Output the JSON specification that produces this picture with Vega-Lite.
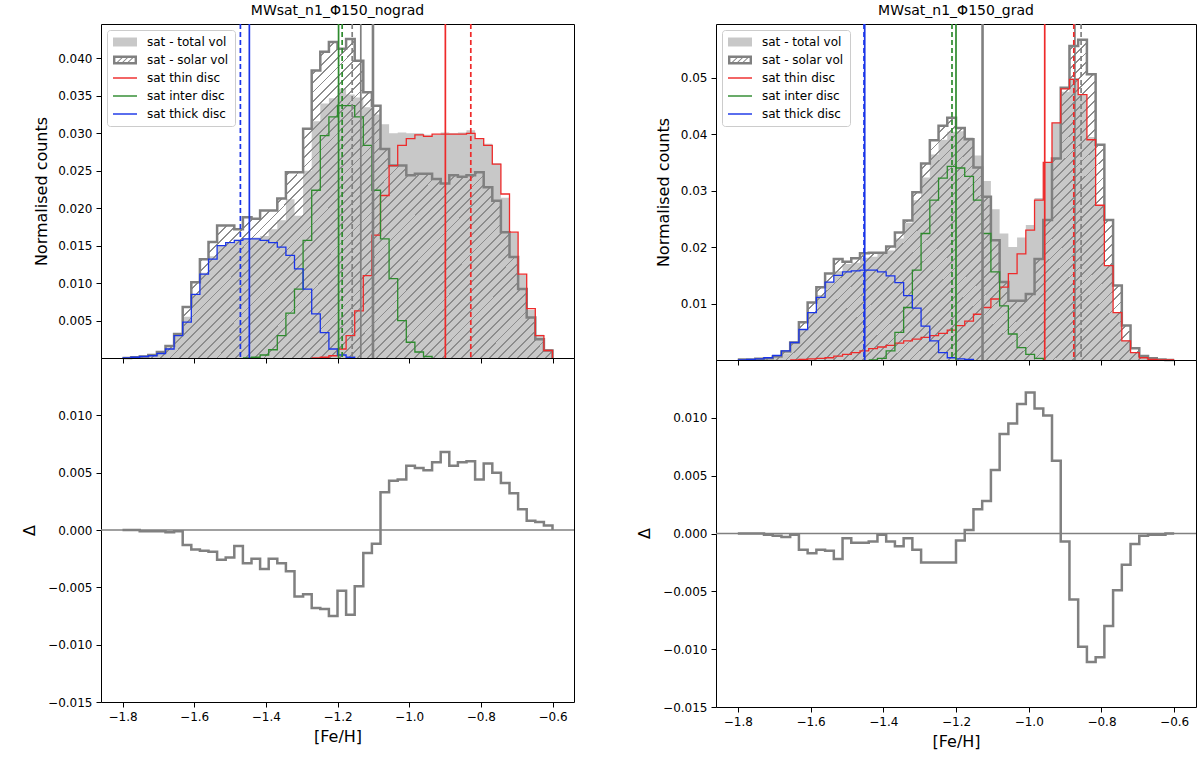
{
  "$schema": "https://vega.github.io/schema/vega-lite/v6.json",
  "background": "white",
  "padding": {"left": 20, "top": 3, "right": 0, "bottom": 0},
  "config": {
    "font": "DejaVu Sans",
    "view": {"stroke": "#000000", "strokeWidth": 1},
    "axis": {"grid": false, "domain": false, "ticks": true, "tickColor": "#000000", "tickSize": 5, "tickWidth": 1, "labelFont": "DejaVu Sans", "labelFontSize": 12, "labelColor": "#000000", "labelPadding": 4, "labelFlush": false, "labelOverlap": false, "titleFont": "DejaVu Sans", "titleFontSize": 16, "titleFontWeight": "normal", "titleColor": "#000000"},
    "title": {"font": "DejaVu Sans", "fontSize": 14, "fontWeight": "normal", "color": "#000000", "offset": 5, "anchor": "middle"},
    "legend": {"orient": "top-left", "offset": 6, "padding": 6, "fillColor": "#ffffff", "strokeColor": "#cccccc", "cornerRadius": 3, "labelFont": "DejaVu Sans", "labelFontSize": 12, "labelColor": "#000000", "labelOffset": 22, "rowPadding": 6, "symbolSize": 144, "symbolOpacity": 1, "symbolStrokeWidth": 0}
  },
  "datasets": {
    "bins": [
      {"panel":"nograd","feh":-1.8,"total":0,"solar":0,"thick":0,"delta":0},
      {"panel":"nograd","feh":-1.776,"total":0.0001,"solar":0.0001,"thick":0.0001,"delta":0},
      {"panel":"nograd","feh":-1.752,"total":0.0001,"solar":0.0002,"thick":0.0002,"delta":-0.0001},
      {"panel":"nograd","feh":-1.728,"total":0.0003,"solar":0.0004,"thick":0.0003,"delta":-0.0001},
      {"panel":"nograd","feh":-1.704,"total":0.0007,"solar":0.0008,"thick":0.0006,"delta":-0.0001},
      {"panel":"nograd","feh":-1.68,"total":0.0014,"solar":0.0016,"thick":0.0012,"delta":-0.0002},
      {"panel":"nograd","feh":-1.656,"total":0.0031,"solar":0.0032,"thick":0.003,"delta":-0.0001},
      {"panel":"nograd","feh":-1.632,"total":0.0055,"solar":0.0068,"thick":0.0048,"delta":-0.0013},
      {"panel":"nograd","feh":-1.608,"total":0.0084,"solar":0.0101,"thick":0.0085,"delta":-0.0017},
      {"panel":"nograd","feh":-1.584,"total":0.0114,"solar":0.0132,"thick":0.0112,"delta":-0.0018},
      {"panel":"nograd","feh":-1.56,"total":0.0136,"solar":0.0155,"thick":0.0132,"delta":-0.0019},
      {"panel":"nograd","feh":-1.536,"total":0.0151,"solar":0.0177,"thick":0.015,"delta":-0.0026},
      {"panel":"nograd","feh":-1.512,"total":0.0153,"solar":0.0177,"thick":0.0154,"delta":-0.0024},
      {"panel":"nograd","feh":-1.488,"total":0.0158,"solar":0.0172,"thick":0.0157,"delta":-0.0014},
      {"panel":"nograd","feh":-1.464,"total":0.0159,"solar":0.0188,"inter":0,"thick":0.0159,"delta":-0.0029},
      {"panel":"nograd","feh":-1.44,"total":0.0161,"solar":0.0186,"inter":0.0001,"thick":0.0159,"delta":-0.0025},
      {"panel":"nograd","feh":-1.416,"total":0.0163,"solar":0.0197,"inter":0.0004,"thick":0.0157,"delta":-0.0034},
      {"panel":"nograd","feh":-1.392,"total":0.0172,"solar":0.0197,"inter":0.0011,"thick":0.0154,"delta":-0.0025},
      {"panel":"nograd","feh":-1.368,"total":0.0184,"solar":0.0213,"inter":0.003,"thick":0.0148,"delta":-0.0029},
      {"panel":"nograd","feh":-1.344,"total":0.0212,"solar":0.0248,"inter":0.006,"thick":0.0137,"delta":-0.0036},
      {"panel":"nograd","feh":-1.32,"total":0.019,"solar":0.0248,"inter":0.0092,"thick":0.0119,"delta":-0.0058},
      {"panel":"nograd","feh":-1.296,"total":0.025,"solar":0.0306,"inter":0.0157,"thick":0.0092,"delta":-0.0056},
      {"panel":"nograd","feh":-1.272,"total":0.0316,"solar":0.0384,"thin":0,"inter":0.0224,"thick":0.0059,"delta":-0.0068},
      {"panel":"nograd","feh":-1.248,"total":0.034,"solar":0.0409,"thin":0.0001,"inter":0.0297,"thick":0.0034,"delta":-0.0069},
      {"panel":"nograd","feh":-1.224,"total":0.0347,"solar":0.0422,"thin":0.0003,"inter":0.0322,"thick":0.0012,"delta":-0.0075},
      {"panel":"nograd","feh":-1.2,"total":0.036,"solar":0.0413,"thin":0.0012,"inter":0.0337,"thick":0.0004,"delta":-0.0053},
      {"panel":"nograd","feh":-1.176,"total":0.0352,"solar":0.0426,"thin":0.003,"inter":0.0337,"thick":0.0001,"delta":-0.0074},
      {"panel":"nograd","feh":-1.152,"total":0.0348,"solar":0.0397,"thin":0.0063,"inter":0.0322,"thick":0,"delta":-0.0049},
      {"panel":"nograd","feh":-1.128,"total":0.0335,"solar":0.0355,"thin":0.011,"inter":0.0284,"delta":-0.002},
      {"panel":"nograd","feh":-1.104,"total":0.0325,"solar":0.0337,"thin":0.0164,"inter":0.0224,"delta":-0.0012},
      {"panel":"nograd","feh":-1.08,"total":0.0312,"solar":0.0279,"thin":0.0217,"inter":0.0159,"delta":0.0033},
      {"panel":"nograd","feh":-1.056,"total":0.03,"solar":0.0257,"thin":0.0257,"inter":0.0106,"delta":0.0043},
      {"panel":"nograd","feh":-1.032,"total":0.0301,"solar":0.0257,"thin":0.0284,"inter":0.005,"delta":0.0044},
      {"panel":"nograd","feh":-1.008,"total":0.03,"solar":0.0244,"thin":0.0293,"inter":0.0021,"delta":0.0056},
      {"panel":"nograd","feh":-0.984,"total":0.03,"solar":0.0246,"thin":0.0298,"inter":0.0008,"delta":0.0054},
      {"panel":"nograd","feh":-0.96,"total":0.0298,"solar":0.0246,"thin":0.0296,"inter":0.0002,"delta":0.0052},
      {"panel":"nograd","feh":-0.936,"total":0.0298,"solar":0.0239,"thin":0.0299,"inter":0,"delta":0.0059},
      {"panel":"nograd","feh":-0.912,"total":0.0301,"solar":0.0233,"thin":0.0299,"delta":0.0068},
      {"panel":"nograd","feh":-0.888,"total":0.03,"solar":0.0244,"thin":0.0299,"delta":0.0056},
      {"panel":"nograd","feh":-0.864,"total":0.0301,"solar":0.0242,"thin":0.0299,"delta":0.0059},
      {"panel":"nograd","feh":-0.84,"total":0.0304,"solar":0.0244,"thin":0.03,"delta":0.006},
      {"panel":"nograd","feh":-0.816,"total":0.0292,"solar":0.0248,"thin":0.0293,"delta":0.0044},
      {"panel":"nograd","feh":-0.792,"total":0.0286,"solar":0.0228,"thin":0.0284,"delta":0.0058},
      {"panel":"nograd","feh":-0.768,"total":0.026,"solar":0.021,"thin":0.0259,"delta":0.005},
      {"panel":"nograd","feh":-0.744,"total":0.0214,"solar":0.0168,"thin":0.0219,"delta":0.0041},
      {"panel":"nograd","feh":-0.72,"total":0.0167,"solar":0.0135,"thin":0.0168,"delta":0.0032},
      {"panel":"nograd","feh":-0.696,"total":0.0111,"solar":0.0092,"thin":0.0112,"delta":0.0018},
      {"panel":"nograd","feh":-0.672,"total":0.0064,"solar":0.0054,"thin":0.0066,"delta":0.0008},
      {"panel":"nograd","feh":-0.648,"total":0.0031,"solar":0.0025,"thin":0.003,"delta":0.0007},
      {"panel":"nograd","feh":-0.624,"total":0.0012,"solar":0.001,"thin":0.001,"delta":0.0004},
      {"panel":"nograd","feh":-0.6,"total":0,"solar":0,"thin":0,"delta":0},
      {"panel":"grad","feh":-1.8,"total":0.0001,"solar":0.0001,"thick":0,"delta":0},
      {"panel":"grad","feh":-1.776,"total":0.0001,"solar":0.0001,"thick":0.0001,"delta":0},
      {"panel":"grad","feh":-1.752,"total":0.0002,"solar":0.0002,"thick":0.0002,"delta":0},
      {"panel":"grad","feh":-1.728,"total":0.0002,"solar":0.0003,"thick":0.0004,"delta":-0.0001},
      {"panel":"grad","feh":-1.704,"total":0.0004,"solar":0.0006,"thick":0.0008,"delta":-0.0002},
      {"panel":"grad","feh":-1.68,"total":0.0012,"solar":0.0015,"thick":0.0016,"delta":-0.0003},
      {"panel":"grad","feh":-1.656,"total":0.003,"solar":0.0031,"thin":0,"thick":0.0031,"delta":-0.0001},
      {"panel":"grad","feh":-1.632,"total":0.0053,"solar":0.0067,"thin":0.0001,"thick":0.0054,"delta":-0.0014},
      {"panel":"grad","feh":-1.608,"total":0.0085,"solar":0.0102,"thin":0.0002,"thick":0.0084,"delta":-0.0017},
      {"panel":"grad","feh":-1.584,"total":0.0115,"solar":0.0129,"thin":0.0003,"thick":0.0111,"delta":-0.0014},
      {"panel":"grad","feh":-1.56,"total":0.0138,"solar":0.0153,"thin":0.0004,"thick":0.0138,"delta":-0.0015},
      {"panel":"grad","feh":-1.536,"total":0.0157,"solar":0.0179,"thin":0.0007,"thick":0.015,"delta":-0.0022},
      {"panel":"grad","feh":-1.512,"total":0.017,"solar":0.0174,"thin":0.001,"thick":0.0156,"delta":-0.0004},
      {"panel":"grad","feh":-1.488,"total":0.0172,"solar":0.018,"thin":0.0013,"thick":0.0158,"delta":-0.0008},
      {"panel":"grad","feh":-1.464,"total":0.0181,"solar":0.0189,"thin":0.0016,"thick":0.0159,"delta":-0.0008},
      {"panel":"grad","feh":-1.44,"total":0.0183,"solar":0.019,"thin":0.002,"inter":0,"thick":0.0159,"delta":-0.0007},
      {"panel":"grad","feh":-1.416,"total":0.0189,"solar":0.019,"thin":0.0023,"inter":0.0003,"thick":0.0156,"delta":-0.0001},
      {"panel":"grad","feh":-1.392,"total":0.0194,"solar":0.0201,"thin":0.0026,"inter":0.0016,"thick":0.0149,"delta":-0.0007},
      {"panel":"grad","feh":-1.368,"total":0.0215,"solar":0.0226,"thin":0.003,"inter":0.0049,"thick":0.0137,"delta":-0.0011},
      {"panel":"grad","feh":-1.344,"total":0.0243,"solar":0.0247,"thin":0.0034,"inter":0.0093,"thick":0.0114,"delta":-0.0004},
      {"panel":"grad","feh":-1.32,"total":0.0283,"solar":0.0297,"thin":0.0037,"inter":0.0159,"thick":0.0092,"delta":-0.0014},
      {"panel":"grad","feh":-1.296,"total":0.0323,"solar":0.0348,"thin":0.004,"inter":0.0224,"thick":0.006,"delta":-0.0025},
      {"panel":"grad","feh":-1.272,"total":0.0364,"solar":0.0389,"thin":0.0043,"inter":0.0283,"thick":0.0034,"delta":-0.0025},
      {"panel":"grad","feh":-1.248,"total":0.039,"solar":0.0415,"thin":0.0047,"inter":0.0322,"thick":0.0013,"delta":-0.0025},
      {"panel":"grad","feh":-1.224,"total":0.0404,"solar":0.0429,"thin":0.0053,"inter":0.0343,"thick":0.0004,"delta":-0.0025},
      {"panel":"grad","feh":-1.2,"total":0.0405,"solar":0.0411,"thin":0.0061,"inter":0.034,"thick":0.0002,"delta":-0.0006},
      {"panel":"grad","feh":-1.176,"total":0.0394,"solar":0.0391,"thin":0.0069,"inter":0.0325,"thick":0.0001,"delta":0.0003},
      {"panel":"grad","feh":-1.152,"total":0.0362,"solar":0.0341,"thin":0.0081,"inter":0.0283,"thick":0,"delta":0.0021},
      {"panel":"grad","feh":-1.128,"total":0.0317,"solar":0.0289,"thin":0.0093,"inter":0.0224,"delta":0.0028},
      {"panel":"grad","feh":-1.104,"total":0.0267,"solar":0.0212,"thin":0.0108,"inter":0.0156,"delta":0.0055},
      {"panel":"grad","feh":-1.08,"total":0.0224,"solar":0.0138,"thin":0.0129,"inter":0.0096,"delta":0.0086},
      {"panel":"grad","feh":-1.056,"total":0.02,"solar":0.0105,"thin":0.0153,"inter":0.0046,"delta":0.0095},
      {"panel":"grad","feh":-1.032,"total":0.0217,"solar":0.0105,"thin":0.0188,"inter":0.0022,"delta":0.0112},
      {"panel":"grad","feh":-1.008,"total":0.0239,"solar":0.0117,"thin":0.023,"inter":0.001,"delta":0.0122},
      {"panel":"grad","feh":-0.984,"total":0.0287,"solar":0.0179,"thin":0.0283,"inter":0.0003,"delta":0.0108},
      {"panel":"grad","feh":-0.96,"total":0.035,"solar":0.0248,"thin":0.035,"inter":0,"delta":0.0102},
      {"panel":"grad","feh":-0.936,"total":0.042,"solar":0.0357,"thin":0.042,"delta":0.0063},
      {"panel":"grad","feh":-0.912,"total":0.0475,"solar":0.0482,"thin":0.048,"delta":-0.0007},
      {"panel":"grad","feh":-0.888,"total":0.0499,"solar":0.0556,"thin":0.0497,"delta":-0.0057},
      {"panel":"grad","feh":-0.864,"total":0.0469,"solar":0.0567,"thin":0.047,"delta":-0.0098},
      {"panel":"grad","feh":-0.84,"total":0.0395,"solar":0.0506,"thin":0.039,"delta":-0.0111},
      {"panel":"grad","feh":-0.816,"total":0.0274,"solar":0.0381,"thin":0.0274,"delta":-0.0107},
      {"panel":"grad","feh":-0.792,"total":0.0168,"solar":0.0248,"thin":0.0167,"delta":-0.008},
      {"panel":"grad","feh":-0.768,"total":0.0084,"solar":0.0132,"thin":0.0084,"delta":-0.0049},
      {"panel":"grad","feh":-0.744,"total":0.0035,"solar":0.0061,"thin":0.0034,"delta":-0.0027},
      {"panel":"grad","feh":-0.72,"total":0.0013,"solar":0.0021,"thin":0.0013,"delta":-0.0009},
      {"panel":"grad","feh":-0.696,"total":0.0005,"solar":0.0007,"thin":0.0004,"delta":-0.0002},
      {"panel":"grad","feh":-0.672,"total":0.0002,"solar":0.0003,"thin":0.0001,"delta":-0.0001},
      {"panel":"grad","feh":-0.648,"total":0.0001,"solar":0.0001,"thin":0,"delta":-0.0001},
      {"panel":"grad","feh":-0.624,"total":0.0001,"solar":0,"thin":0,"delta":0},
      {"panel":"grad","feh":-0.6,"total":0,"solar":0,"thin":0,"delta":0}
    ],
    "vlines": [
      {"panel":"nograd","series":"thick","stat":"mean","feh":-1.446},
      {"panel":"nograd","series":"thick","stat":"median","feh":-1.471},
      {"panel":"nograd","series":"inter","stat":"mean","feh":-1.197},
      {"panel":"nograd","series":"inter","stat":"median","feh":-1.187},
      {"panel":"nograd","series":"solar","stat":"median","feh":-1.159},
      {"panel":"nograd","series":"solar","stat":"mean","feh":-1.135},
      {"panel":"nograd","series":"thin","stat":"mean","feh":-0.899},
      {"panel":"nograd","series":"thin","stat":"median","feh":-0.828},
      {"panel":"nograd","series":"total","stat":"mean","feh":-1.101},
      {"panel":"grad","series":"thick","stat":"mean","feh":-1.451},
      {"panel":"grad","series":"thick","stat":"median","feh":-1.453},
      {"panel":"grad","series":"inter","stat":"mean","feh":-1.2},
      {"panel":"grad","series":"inter","stat":"median","feh":-1.211},
      {"panel":"grad","series":"solar","stat":"mean","feh":-0.873},
      {"panel":"grad","series":"solar","stat":"median","feh":-0.856},
      {"panel":"grad","series":"thin","stat":"mean","feh":-0.956},
      {"panel":"grad","series":"thin","stat":"median","feh":-0.876},
      {"panel":"grad","series":"total","stat":"mean","feh":-1.127}
    ]
  },
  "resolve": {"scale": {"color": "independent", "shape": "independent", "stroke": "independent", "strokeDash": "independent"}, "legend": {"color": "independent", "shape": "independent"}},
  "spacing": 59,
  "hconcat": [
    {
      "vconcat": [
        {
          "width": 473, "height": 334,
          "title": {"text": "MWsat_n1_Φ150_nograd"},
          "encoding": {"x": {"field": "feh", "type": "quantitative", "scale": {"domain": [-1.86, -0.54], "nice": false, "zero": false}, "axis": {"values": [-1.8, -1.6, -1.4, -1.2, -1.0, -0.8, -0.6], "labels": false, "title": null}}},
          "layer": [
            {"data": {"name": "bins"}, "transform": [{"filter": "datum.panel === 'nograd'"}],
             "mark": {"type": "area", "interpolate": "step-after", "fill": "#c8c8c8"},
             "encoding": {"y": {"field": "total", "type": "quantitative", "title": "Normalised counts", "scale": {"domain": [0, 0.0446], "nice": false, "zero": true}, "axis": {"values": [0.005, 0.01, 0.015, 0.02, 0.025, 0.03, 0.035, 0.04], "format": ".3f", "titleX": -60, "titleY": 167, "titleAngle": 270, "titleAlign": "center", "titleBaseline": "middle"}}}},
            {"data": {"name": "bins"}, "transform": [{"filter": "datum.panel === 'nograd'"}],
             "mark": {"type": "area", "interpolate": "step-after", "fill": {"gradient": "linear", "x1": 0, "y1": 0, "x2": 1.13, "y2": 0.836, "stops": [
      {"offset":0,"color":"transparent"},{"offset":0.01,"color":"transparent"},{"offset":0.01,"color":"#8c8c8c"},{"offset":0.0125,"color":"#8c8c8c"},
      {"offset":0.0125,"color":"transparent"},{"offset":0.0225,"color":"transparent"},{"offset":0.0225,"color":"#8c8c8c"},{"offset":0.025,"color":"#8c8c8c"},
      {"offset":0.025,"color":"transparent"},{"offset":0.035,"color":"transparent"},{"offset":0.035,"color":"#8c8c8c"},{"offset":0.0375,"color":"#8c8c8c"},
      {"offset":0.0375,"color":"transparent"},{"offset":0.0475,"color":"transparent"},{"offset":0.0475,"color":"#8c8c8c"},{"offset":0.05,"color":"#8c8c8c"},
      {"offset":0.05,"color":"transparent"},{"offset":0.06,"color":"transparent"},{"offset":0.06,"color":"#8c8c8c"},{"offset":0.0625,"color":"#8c8c8c"},
      {"offset":0.0625,"color":"transparent"},{"offset":0.0725,"color":"transparent"},{"offset":0.0725,"color":"#8c8c8c"},{"offset":0.075,"color":"#8c8c8c"},
      {"offset":0.075,"color":"transparent"},{"offset":0.085,"color":"transparent"},{"offset":0.085,"color":"#8c8c8c"},{"offset":0.0875,"color":"#8c8c8c"},
      {"offset":0.0875,"color":"transparent"},{"offset":0.0975,"color":"transparent"},{"offset":0.0975,"color":"#8c8c8c"},{"offset":0.1,"color":"#8c8c8c"},
      {"offset":0.1,"color":"transparent"},{"offset":0.11,"color":"transparent"},{"offset":0.11,"color":"#8c8c8c"},{"offset":0.1125,"color":"#8c8c8c"},
      {"offset":0.1125,"color":"transparent"},{"offset":0.1225,"color":"transparent"},{"offset":0.1225,"color":"#8c8c8c"},{"offset":0.125,"color":"#8c8c8c"},
      {"offset":0.125,"color":"transparent"},{"offset":0.135,"color":"transparent"},{"offset":0.135,"color":"#8c8c8c"},{"offset":0.1375,"color":"#8c8c8c"},
      {"offset":0.1375,"color":"transparent"},{"offset":0.1475,"color":"transparent"},{"offset":0.1475,"color":"#8c8c8c"},{"offset":0.15,"color":"#8c8c8c"},
      {"offset":0.15,"color":"transparent"},{"offset":0.16,"color":"transparent"},{"offset":0.16,"color":"#8c8c8c"},{"offset":0.1625,"color":"#8c8c8c"},
      {"offset":0.1625,"color":"transparent"},{"offset":0.1725,"color":"transparent"},{"offset":0.1725,"color":"#8c8c8c"},{"offset":0.175,"color":"#8c8c8c"},
      {"offset":0.175,"color":"transparent"},{"offset":0.185,"color":"transparent"},{"offset":0.185,"color":"#8c8c8c"},{"offset":0.1875,"color":"#8c8c8c"},
      {"offset":0.1875,"color":"transparent"},{"offset":0.1975,"color":"transparent"},{"offset":0.1975,"color":"#8c8c8c"},{"offset":0.2,"color":"#8c8c8c"},
      {"offset":0.2,"color":"transparent"},{"offset":0.21,"color":"transparent"},{"offset":0.21,"color":"#8c8c8c"},{"offset":0.2125,"color":"#8c8c8c"},
      {"offset":0.2125,"color":"transparent"},{"offset":0.2225,"color":"transparent"},{"offset":0.2225,"color":"#8c8c8c"},{"offset":0.225,"color":"#8c8c8c"},
      {"offset":0.225,"color":"transparent"},{"offset":0.235,"color":"transparent"},{"offset":0.235,"color":"#8c8c8c"},{"offset":0.2375,"color":"#8c8c8c"},
      {"offset":0.2375,"color":"transparent"},{"offset":0.2475,"color":"transparent"},{"offset":0.2475,"color":"#8c8c8c"},{"offset":0.25,"color":"#8c8c8c"},
      {"offset":0.25,"color":"transparent"},{"offset":0.26,"color":"transparent"},{"offset":0.26,"color":"#8c8c8c"},{"offset":0.2625,"color":"#8c8c8c"},
      {"offset":0.2625,"color":"transparent"},{"offset":0.2725,"color":"transparent"},{"offset":0.2725,"color":"#8c8c8c"},{"offset":0.275,"color":"#8c8c8c"},
      {"offset":0.275,"color":"transparent"},{"offset":0.285,"color":"transparent"},{"offset":0.285,"color":"#8c8c8c"},{"offset":0.2875,"color":"#8c8c8c"},
      {"offset":0.2875,"color":"transparent"},{"offset":0.2975,"color":"transparent"},{"offset":0.2975,"color":"#8c8c8c"},{"offset":0.3,"color":"#8c8c8c"},
      {"offset":0.3,"color":"transparent"},{"offset":0.31,"color":"transparent"},{"offset":0.31,"color":"#8c8c8c"},{"offset":0.3125,"color":"#8c8c8c"},
      {"offset":0.3125,"color":"transparent"},{"offset":0.3225,"color":"transparent"},{"offset":0.3225,"color":"#8c8c8c"},{"offset":0.325,"color":"#8c8c8c"},
      {"offset":0.325,"color":"transparent"},{"offset":0.335,"color":"transparent"},{"offset":0.335,"color":"#8c8c8c"},{"offset":0.3375,"color":"#8c8c8c"},
      {"offset":0.3375,"color":"transparent"},{"offset":0.3475,"color":"transparent"},{"offset":0.3475,"color":"#8c8c8c"},{"offset":0.35,"color":"#8c8c8c"},
      {"offset":0.35,"color":"transparent"},{"offset":0.36,"color":"transparent"},{"offset":0.36,"color":"#8c8c8c"},{"offset":0.3625,"color":"#8c8c8c"},
      {"offset":0.3625,"color":"transparent"},{"offset":0.3725,"color":"transparent"},{"offset":0.3725,"color":"#8c8c8c"},{"offset":0.375,"color":"#8c8c8c"},
      {"offset":0.375,"color":"transparent"},{"offset":0.385,"color":"transparent"},{"offset":0.385,"color":"#8c8c8c"},{"offset":0.3875,"color":"#8c8c8c"},
      {"offset":0.3875,"color":"transparent"},{"offset":0.3975,"color":"transparent"},{"offset":0.3975,"color":"#8c8c8c"},{"offset":0.4,"color":"#8c8c8c"},
      {"offset":0.4,"color":"transparent"},{"offset":0.41,"color":"transparent"},{"offset":0.41,"color":"#8c8c8c"},{"offset":0.4125,"color":"#8c8c8c"},
      {"offset":0.4125,"color":"transparent"},{"offset":0.4225,"color":"transparent"},{"offset":0.4225,"color":"#8c8c8c"},{"offset":0.425,"color":"#8c8c8c"},
      {"offset":0.425,"color":"transparent"},{"offset":0.435,"color":"transparent"},{"offset":0.435,"color":"#8c8c8c"},{"offset":0.4375,"color":"#8c8c8c"},
      {"offset":0.4375,"color":"transparent"},{"offset":0.4475,"color":"transparent"},{"offset":0.4475,"color":"#8c8c8c"},{"offset":0.45,"color":"#8c8c8c"},
      {"offset":0.45,"color":"transparent"},{"offset":0.46,"color":"transparent"},{"offset":0.46,"color":"#8c8c8c"},{"offset":0.4625,"color":"#8c8c8c"},
      {"offset":0.4625,"color":"transparent"},{"offset":0.4725,"color":"transparent"},{"offset":0.4725,"color":"#8c8c8c"},{"offset":0.475,"color":"#8c8c8c"},
      {"offset":0.475,"color":"transparent"},{"offset":0.485,"color":"transparent"},{"offset":0.485,"color":"#8c8c8c"},{"offset":0.4875,"color":"#8c8c8c"},
      {"offset":0.4875,"color":"transparent"},{"offset":0.4975,"color":"transparent"},{"offset":0.4975,"color":"#8c8c8c"},{"offset":0.5,"color":"#8c8c8c"},
      {"offset":0.5,"color":"transparent"},{"offset":0.51,"color":"transparent"},{"offset":0.51,"color":"#8c8c8c"},{"offset":0.5125,"color":"#8c8c8c"},
      {"offset":0.5125,"color":"transparent"},{"offset":0.5225,"color":"transparent"},{"offset":0.5225,"color":"#8c8c8c"},{"offset":0.525,"color":"#8c8c8c"},
      {"offset":0.525,"color":"transparent"},{"offset":0.535,"color":"transparent"},{"offset":0.535,"color":"#8c8c8c"},{"offset":0.5375,"color":"#8c8c8c"},
      {"offset":0.5375,"color":"transparent"},{"offset":0.5475,"color":"transparent"},{"offset":0.5475,"color":"#8c8c8c"},{"offset":0.55,"color":"#8c8c8c"},
      {"offset":0.55,"color":"transparent"},{"offset":0.56,"color":"transparent"},{"offset":0.56,"color":"#8c8c8c"},{"offset":0.5625,"color":"#8c8c8c"},
      {"offset":0.5625,"color":"transparent"},{"offset":0.5725,"color":"transparent"},{"offset":0.5725,"color":"#8c8c8c"},{"offset":0.575,"color":"#8c8c8c"},
      {"offset":0.575,"color":"transparent"},{"offset":0.585,"color":"transparent"},{"offset":0.585,"color":"#8c8c8c"},{"offset":0.5875,"color":"#8c8c8c"},
      {"offset":0.5875,"color":"transparent"},{"offset":0.5975,"color":"transparent"},{"offset":0.5975,"color":"#8c8c8c"},{"offset":0.6,"color":"#8c8c8c"},
      {"offset":0.6,"color":"transparent"},{"offset":0.61,"color":"transparent"},{"offset":0.61,"color":"#8c8c8c"},{"offset":0.6125,"color":"#8c8c8c"},
      {"offset":0.6125,"color":"transparent"},{"offset":0.6225,"color":"transparent"},{"offset":0.6225,"color":"#8c8c8c"},{"offset":0.625,"color":"#8c8c8c"},
      {"offset":0.625,"color":"transparent"},{"offset":0.635,"color":"transparent"},{"offset":0.635,"color":"#8c8c8c"},{"offset":0.6375,"color":"#8c8c8c"},
      {"offset":0.6375,"color":"transparent"},{"offset":0.6475,"color":"transparent"},{"offset":0.6475,"color":"#8c8c8c"},{"offset":0.65,"color":"#8c8c8c"},
      {"offset":0.65,"color":"transparent"},{"offset":0.66,"color":"transparent"},{"offset":0.66,"color":"#8c8c8c"},{"offset":0.6625,"color":"#8c8c8c"},
      {"offset":0.6625,"color":"transparent"},{"offset":0.6725,"color":"transparent"},{"offset":0.6725,"color":"#8c8c8c"},{"offset":0.675,"color":"#8c8c8c"},
      {"offset":0.675,"color":"transparent"},{"offset":0.685,"color":"transparent"},{"offset":0.685,"color":"#8c8c8c"},{"offset":0.6875,"color":"#8c8c8c"},
      {"offset":0.6875,"color":"transparent"},{"offset":0.6975,"color":"transparent"},{"offset":0.6975,"color":"#8c8c8c"},{"offset":0.7,"color":"#8c8c8c"},
      {"offset":0.7,"color":"transparent"},{"offset":0.71,"color":"transparent"},{"offset":0.71,"color":"#8c8c8c"},{"offset":0.7125,"color":"#8c8c8c"},
      {"offset":0.7125,"color":"transparent"},{"offset":0.7225,"color":"transparent"},{"offset":0.7225,"color":"#8c8c8c"},{"offset":0.725,"color":"#8c8c8c"},
      {"offset":0.725,"color":"transparent"},{"offset":0.735,"color":"transparent"},{"offset":0.735,"color":"#8c8c8c"},{"offset":0.7375,"color":"#8c8c8c"},
      {"offset":0.7375,"color":"transparent"},{"offset":0.7475,"color":"transparent"},{"offset":0.7475,"color":"#8c8c8c"},{"offset":0.75,"color":"#8c8c8c"},
      {"offset":0.75,"color":"transparent"},{"offset":0.76,"color":"transparent"},{"offset":0.76,"color":"#8c8c8c"},{"offset":0.7625,"color":"#8c8c8c"},
      {"offset":0.7625,"color":"transparent"},{"offset":0.7725,"color":"transparent"},{"offset":0.7725,"color":"#8c8c8c"},{"offset":0.775,"color":"#8c8c8c"},
      {"offset":0.775,"color":"transparent"},{"offset":0.785,"color":"transparent"},{"offset":0.785,"color":"#8c8c8c"},{"offset":0.7875,"color":"#8c8c8c"},
      {"offset":0.7875,"color":"transparent"},{"offset":0.7975,"color":"transparent"},{"offset":0.7975,"color":"#8c8c8c"},{"offset":0.8,"color":"#8c8c8c"},
      {"offset":0.8,"color":"transparent"},{"offset":0.81,"color":"transparent"},{"offset":0.81,"color":"#8c8c8c"},{"offset":0.8125,"color":"#8c8c8c"},
      {"offset":0.8125,"color":"transparent"},{"offset":0.8225,"color":"transparent"},{"offset":0.8225,"color":"#8c8c8c"},{"offset":0.825,"color":"#8c8c8c"},
      {"offset":0.825,"color":"transparent"},{"offset":0.835,"color":"transparent"},{"offset":0.835,"color":"#8c8c8c"},{"offset":0.8375,"color":"#8c8c8c"},
      {"offset":0.8375,"color":"transparent"},{"offset":0.8475,"color":"transparent"},{"offset":0.8475,"color":"#8c8c8c"},{"offset":0.85,"color":"#8c8c8c"},
      {"offset":0.85,"color":"transparent"},{"offset":0.86,"color":"transparent"},{"offset":0.86,"color":"#8c8c8c"},{"offset":0.8625,"color":"#8c8c8c"},
      {"offset":0.8625,"color":"transparent"},{"offset":0.8725,"color":"transparent"},{"offset":0.8725,"color":"#8c8c8c"},{"offset":0.875,"color":"#8c8c8c"},
      {"offset":0.875,"color":"transparent"},{"offset":0.885,"color":"transparent"},{"offset":0.885,"color":"#8c8c8c"},{"offset":0.8875,"color":"#8c8c8c"},
      {"offset":0.8875,"color":"transparent"},{"offset":0.8975,"color":"transparent"},{"offset":0.8975,"color":"#8c8c8c"},{"offset":0.9,"color":"#8c8c8c"},
      {"offset":0.9,"color":"transparent"},{"offset":0.91,"color":"transparent"},{"offset":0.91,"color":"#8c8c8c"},{"offset":0.9125,"color":"#8c8c8c"},
      {"offset":0.9125,"color":"transparent"},{"offset":0.9225,"color":"transparent"},{"offset":0.9225,"color":"#8c8c8c"},{"offset":0.925,"color":"#8c8c8c"},
      {"offset":0.925,"color":"transparent"},{"offset":0.935,"color":"transparent"},{"offset":0.935,"color":"#8c8c8c"},{"offset":0.9375,"color":"#8c8c8c"},
      {"offset":0.9375,"color":"transparent"},{"offset":0.9475,"color":"transparent"},{"offset":0.9475,"color":"#8c8c8c"},{"offset":0.95,"color":"#8c8c8c"},
      {"offset":0.95,"color":"transparent"},{"offset":0.96,"color":"transparent"},{"offset":0.96,"color":"#8c8c8c"},{"offset":0.9625,"color":"#8c8c8c"},
      {"offset":0.9625,"color":"transparent"},{"offset":0.9725,"color":"transparent"},{"offset":0.9725,"color":"#8c8c8c"},{"offset":0.975,"color":"#8c8c8c"},
      {"offset":0.975,"color":"transparent"},{"offset":0.985,"color":"transparent"},{"offset":0.985,"color":"#8c8c8c"},{"offset":0.9875,"color":"#8c8c8c"},
      {"offset":0.9875,"color":"transparent"},{"offset":0.9975,"color":"transparent"},{"offset":0.9975,"color":"#8c8c8c"},{"offset":1,"color":"#8c8c8c"}
    ]}},
             "encoding": {"y": {"field": "solar", "type": "quantitative", "title": "Normalised counts"}}},
            {"data": {"name": "bins"}, "transform": [{"filter": "datum.panel === 'nograd'"}],
             "mark": {"type": "line", "interpolate": "step-after", "stroke": "#808080", "strokeWidth": 2.5},
             "encoding": {"y": {"field": "solar", "type": "quantitative", "title": "Normalised counts"}}},
            {"data": {"name": "bins"}, "transform": [{"filter": "datum.panel === 'nograd'"}, {"fold": ["thin", "inter", "thick"], "as": ["key", "count"]}],
             "mark": {"type": "line", "interpolate": "step-after", "strokeWidth": 1.3},
             "encoding": {
               "y": {"field": "count", "type": "quantitative", "title": "Normalised counts"},
               "stroke": {"field": "key", "type": "nominal", "scale": {"domain": ["solar", "thin", "inter", "thick"], "range": ["#808080", "#ee2a2a", "#2e8b2e", "#1a35e8"]}, "legend": null}
             }},
            {"data": {"name": "vlines"}, "transform": [{"filter": "datum.panel === 'nograd' && datum.series !== 'total'"}],
             "mark": {"type": "rule", "strokeWidth": 1.7},
             "encoding": {
               "stroke": {"field": "series", "type": "nominal", "scale": {"domain": ["solar", "thin", "inter", "thick"], "range": ["#808080", "#ee2a2a", "#2e8b2e", "#1a35e8"]}, "legend": null},
               "strokeDash": {"field": "stat", "type": "nominal", "scale": {"domain": ["mean", "median"], "range": [[1, 0], [5, 3]]}, "legend": null}
             }},
            {"data": {"name": "vlines"}, "transform": [{"filter": "datum.panel === 'nograd' && datum.series === 'total'"}],
             "mark": {"type": "rule", "strokeWidth": 2.6, "stroke": "#808080"},
             "encoding": {}},
            {"data": {"name": "bins"}, "transform": [{"filter": "datum.panel === 'nograd'"}, {"fold": ["total", "solar", "thin", "inter", "thick"], "as": ["key", "count"]}],
             "mark": {"type": "point", "filled": true, "opacity": 0},
             "encoding": {
               "y": {"field": "count", "type": "quantitative", "title": "Normalised counts"},
               "color": {"field": "key", "type": "nominal", "scale": {"domain": ["total", "solar", "thin", "inter", "thick"], "range": ["#c8c8c8", "#808080", "#ee2a2a", "#2e8b2e", "#1a35e8"]},
                 "legend": {"title": null, "labelExpr": "datum.label == 'total' ? 'sat - total vol' : datum.label == 'solar' ? 'sat - solar vol' : datum.label == 'thin' ? 'sat thin disc' : datum.label == 'inter' ? 'sat inter disc' : 'sat thick disc'"}},
               "shape": {"field": "key", "type": "nominal", "scale": {"domain": ["total", "solar", "thin", "inter", "thick"], "range": ["M-1,-0.75H3V0.75H-1Z", "M-1,-0.75H3V0.75H-1Z M-0.6,-0.35V0.35H2.6V-0.35Z M-0.35,0.35L0.35,-0.35H0.57L-0.13,0.35Z M0.55,0.35L1.25,-0.35H1.47L0.77,0.35Z M1.45,0.35L2.15,-0.35H2.37L1.67,0.35Z", "M-1,-0.12H3V0.12H-1Z", "M-1,-0.12H3V0.12H-1Z", "M-1,-0.12H3V0.12H-1Z"]},
                 "legend": {"title": null, "labelExpr": "datum.label == 'total' ? 'sat - total vol' : datum.label == 'solar' ? 'sat - solar vol' : datum.label == 'thin' ? 'sat thin disc' : datum.label == 'inter' ? 'sat inter disc' : 'sat thick disc'"}}
             }}
          ]
        },
        {
          "width": 473, "height": 344,
          "layer": [
            {"data": {"name": "bins"}, "transform": [{"filter": "datum.panel === 'nograd'"}],
             "mark": {"type": "line", "interpolate": "step-after", "stroke": "#808080", "strokeWidth": 2.5},
             "encoding": {
               "x": {"field": "feh", "type": "quantitative", "title": "[Fe/H]", "scale": {"domain": [-1.86, -0.54], "nice": false, "zero": false}, "axis": {"values": [-1.8, -1.6, -1.4, -1.2, -1.0, -0.8, -0.6], "format": ".1f", "titlePadding": 6}},
               "y": {"field": "delta", "type": "quantitative", "title": "Δ", "scale": {"domain": [-0.015, 0.015], "nice": false, "zero": false}, "axis": {"values": [-0.015, -0.01, -0.005, 0, 0.005, 0.01], "format": ".3f", "titleX": -72, "titleY": 172, "titleAngle": 270, "titleAlign": "center", "titleBaseline": "middle"}}
             }},
            {"data": {"values": [{"level": 0}]},
             "mark": {"type": "rule", "stroke": "#808080", "strokeWidth": 1.5},
             "encoding": {"y": {"field": "level", "type": "quantitative"}}}
          ]
        }
      ],
      "spacing": 0,
      "bounds": "flush",
      "resolve": {"scale": {"color": "independent", "shape": "independent", "stroke": "independent", "strokeDash": "independent"}, "legend": {"color": "independent", "shape": "independent"}}
    },
    {
      "vconcat": [
        {
          "width": 480, "height": 336,
          "title": {"text": "MWsat_n1_Φ150_grad"},
          "encoding": {"x": {"field": "feh", "type": "quantitative", "scale": {"domain": [-1.86, -0.54], "nice": false, "zero": false}, "axis": {"values": [-1.8, -1.6, -1.4, -1.2, -1.0, -0.8, -0.6], "labels": false, "title": null}}},
          "layer": [
            {"data": {"name": "bins"}, "transform": [{"filter": "datum.panel === 'grad'"}],
             "mark": {"type": "area", "interpolate": "step-after", "fill": "#c8c8c8"},
             "encoding": {"y": {"field": "total", "type": "quantitative", "title": "Normalised counts", "scale": {"domain": [0, 0.0595], "nice": false, "zero": true}, "axis": {"values": [0.01, 0.02, 0.03, 0.04, 0.05], "format": ".2f", "titleX": -53, "titleY": 168, "titleAngle": 270, "titleAlign": "center", "titleBaseline": "middle"}}}},
            {"data": {"name": "bins"}, "transform": [{"filter": "datum.panel === 'grad'"}],
             "mark": {"type": "area", "interpolate": "step-after", "fill": {"gradient": "linear", "x1": 0, "y1": 0, "x2": 1.13, "y2": 0.836, "stops": [
      {"offset":0,"color":"transparent"},{"offset":0.01,"color":"transparent"},{"offset":0.01,"color":"#8c8c8c"},{"offset":0.0125,"color":"#8c8c8c"},
      {"offset":0.0125,"color":"transparent"},{"offset":0.0225,"color":"transparent"},{"offset":0.0225,"color":"#8c8c8c"},{"offset":0.025,"color":"#8c8c8c"},
      {"offset":0.025,"color":"transparent"},{"offset":0.035,"color":"transparent"},{"offset":0.035,"color":"#8c8c8c"},{"offset":0.0375,"color":"#8c8c8c"},
      {"offset":0.0375,"color":"transparent"},{"offset":0.0475,"color":"transparent"},{"offset":0.0475,"color":"#8c8c8c"},{"offset":0.05,"color":"#8c8c8c"},
      {"offset":0.05,"color":"transparent"},{"offset":0.06,"color":"transparent"},{"offset":0.06,"color":"#8c8c8c"},{"offset":0.0625,"color":"#8c8c8c"},
      {"offset":0.0625,"color":"transparent"},{"offset":0.0725,"color":"transparent"},{"offset":0.0725,"color":"#8c8c8c"},{"offset":0.075,"color":"#8c8c8c"},
      {"offset":0.075,"color":"transparent"},{"offset":0.085,"color":"transparent"},{"offset":0.085,"color":"#8c8c8c"},{"offset":0.0875,"color":"#8c8c8c"},
      {"offset":0.0875,"color":"transparent"},{"offset":0.0975,"color":"transparent"},{"offset":0.0975,"color":"#8c8c8c"},{"offset":0.1,"color":"#8c8c8c"},
      {"offset":0.1,"color":"transparent"},{"offset":0.11,"color":"transparent"},{"offset":0.11,"color":"#8c8c8c"},{"offset":0.1125,"color":"#8c8c8c"},
      {"offset":0.1125,"color":"transparent"},{"offset":0.1225,"color":"transparent"},{"offset":0.1225,"color":"#8c8c8c"},{"offset":0.125,"color":"#8c8c8c"},
      {"offset":0.125,"color":"transparent"},{"offset":0.135,"color":"transparent"},{"offset":0.135,"color":"#8c8c8c"},{"offset":0.1375,"color":"#8c8c8c"},
      {"offset":0.1375,"color":"transparent"},{"offset":0.1475,"color":"transparent"},{"offset":0.1475,"color":"#8c8c8c"},{"offset":0.15,"color":"#8c8c8c"},
      {"offset":0.15,"color":"transparent"},{"offset":0.16,"color":"transparent"},{"offset":0.16,"color":"#8c8c8c"},{"offset":0.1625,"color":"#8c8c8c"},
      {"offset":0.1625,"color":"transparent"},{"offset":0.1725,"color":"transparent"},{"offset":0.1725,"color":"#8c8c8c"},{"offset":0.175,"color":"#8c8c8c"},
      {"offset":0.175,"color":"transparent"},{"offset":0.185,"color":"transparent"},{"offset":0.185,"color":"#8c8c8c"},{"offset":0.1875,"color":"#8c8c8c"},
      {"offset":0.1875,"color":"transparent"},{"offset":0.1975,"color":"transparent"},{"offset":0.1975,"color":"#8c8c8c"},{"offset":0.2,"color":"#8c8c8c"},
      {"offset":0.2,"color":"transparent"},{"offset":0.21,"color":"transparent"},{"offset":0.21,"color":"#8c8c8c"},{"offset":0.2125,"color":"#8c8c8c"},
      {"offset":0.2125,"color":"transparent"},{"offset":0.2225,"color":"transparent"},{"offset":0.2225,"color":"#8c8c8c"},{"offset":0.225,"color":"#8c8c8c"},
      {"offset":0.225,"color":"transparent"},{"offset":0.235,"color":"transparent"},{"offset":0.235,"color":"#8c8c8c"},{"offset":0.2375,"color":"#8c8c8c"},
      {"offset":0.2375,"color":"transparent"},{"offset":0.2475,"color":"transparent"},{"offset":0.2475,"color":"#8c8c8c"},{"offset":0.25,"color":"#8c8c8c"},
      {"offset":0.25,"color":"transparent"},{"offset":0.26,"color":"transparent"},{"offset":0.26,"color":"#8c8c8c"},{"offset":0.2625,"color":"#8c8c8c"},
      {"offset":0.2625,"color":"transparent"},{"offset":0.2725,"color":"transparent"},{"offset":0.2725,"color":"#8c8c8c"},{"offset":0.275,"color":"#8c8c8c"},
      {"offset":0.275,"color":"transparent"},{"offset":0.285,"color":"transparent"},{"offset":0.285,"color":"#8c8c8c"},{"offset":0.2875,"color":"#8c8c8c"},
      {"offset":0.2875,"color":"transparent"},{"offset":0.2975,"color":"transparent"},{"offset":0.2975,"color":"#8c8c8c"},{"offset":0.3,"color":"#8c8c8c"},
      {"offset":0.3,"color":"transparent"},{"offset":0.31,"color":"transparent"},{"offset":0.31,"color":"#8c8c8c"},{"offset":0.3125,"color":"#8c8c8c"},
      {"offset":0.3125,"color":"transparent"},{"offset":0.3225,"color":"transparent"},{"offset":0.3225,"color":"#8c8c8c"},{"offset":0.325,"color":"#8c8c8c"},
      {"offset":0.325,"color":"transparent"},{"offset":0.335,"color":"transparent"},{"offset":0.335,"color":"#8c8c8c"},{"offset":0.3375,"color":"#8c8c8c"},
      {"offset":0.3375,"color":"transparent"},{"offset":0.3475,"color":"transparent"},{"offset":0.3475,"color":"#8c8c8c"},{"offset":0.35,"color":"#8c8c8c"},
      {"offset":0.35,"color":"transparent"},{"offset":0.36,"color":"transparent"},{"offset":0.36,"color":"#8c8c8c"},{"offset":0.3625,"color":"#8c8c8c"},
      {"offset":0.3625,"color":"transparent"},{"offset":0.3725,"color":"transparent"},{"offset":0.3725,"color":"#8c8c8c"},{"offset":0.375,"color":"#8c8c8c"},
      {"offset":0.375,"color":"transparent"},{"offset":0.385,"color":"transparent"},{"offset":0.385,"color":"#8c8c8c"},{"offset":0.3875,"color":"#8c8c8c"},
      {"offset":0.3875,"color":"transparent"},{"offset":0.3975,"color":"transparent"},{"offset":0.3975,"color":"#8c8c8c"},{"offset":0.4,"color":"#8c8c8c"},
      {"offset":0.4,"color":"transparent"},{"offset":0.41,"color":"transparent"},{"offset":0.41,"color":"#8c8c8c"},{"offset":0.4125,"color":"#8c8c8c"},
      {"offset":0.4125,"color":"transparent"},{"offset":0.4225,"color":"transparent"},{"offset":0.4225,"color":"#8c8c8c"},{"offset":0.425,"color":"#8c8c8c"},
      {"offset":0.425,"color":"transparent"},{"offset":0.435,"color":"transparent"},{"offset":0.435,"color":"#8c8c8c"},{"offset":0.4375,"color":"#8c8c8c"},
      {"offset":0.4375,"color":"transparent"},{"offset":0.4475,"color":"transparent"},{"offset":0.4475,"color":"#8c8c8c"},{"offset":0.45,"color":"#8c8c8c"},
      {"offset":0.45,"color":"transparent"},{"offset":0.46,"color":"transparent"},{"offset":0.46,"color":"#8c8c8c"},{"offset":0.4625,"color":"#8c8c8c"},
      {"offset":0.4625,"color":"transparent"},{"offset":0.4725,"color":"transparent"},{"offset":0.4725,"color":"#8c8c8c"},{"offset":0.475,"color":"#8c8c8c"},
      {"offset":0.475,"color":"transparent"},{"offset":0.485,"color":"transparent"},{"offset":0.485,"color":"#8c8c8c"},{"offset":0.4875,"color":"#8c8c8c"},
      {"offset":0.4875,"color":"transparent"},{"offset":0.4975,"color":"transparent"},{"offset":0.4975,"color":"#8c8c8c"},{"offset":0.5,"color":"#8c8c8c"},
      {"offset":0.5,"color":"transparent"},{"offset":0.51,"color":"transparent"},{"offset":0.51,"color":"#8c8c8c"},{"offset":0.5125,"color":"#8c8c8c"},
      {"offset":0.5125,"color":"transparent"},{"offset":0.5225,"color":"transparent"},{"offset":0.5225,"color":"#8c8c8c"},{"offset":0.525,"color":"#8c8c8c"},
      {"offset":0.525,"color":"transparent"},{"offset":0.535,"color":"transparent"},{"offset":0.535,"color":"#8c8c8c"},{"offset":0.5375,"color":"#8c8c8c"},
      {"offset":0.5375,"color":"transparent"},{"offset":0.5475,"color":"transparent"},{"offset":0.5475,"color":"#8c8c8c"},{"offset":0.55,"color":"#8c8c8c"},
      {"offset":0.55,"color":"transparent"},{"offset":0.56,"color":"transparent"},{"offset":0.56,"color":"#8c8c8c"},{"offset":0.5625,"color":"#8c8c8c"},
      {"offset":0.5625,"color":"transparent"},{"offset":0.5725,"color":"transparent"},{"offset":0.5725,"color":"#8c8c8c"},{"offset":0.575,"color":"#8c8c8c"},
      {"offset":0.575,"color":"transparent"},{"offset":0.585,"color":"transparent"},{"offset":0.585,"color":"#8c8c8c"},{"offset":0.5875,"color":"#8c8c8c"},
      {"offset":0.5875,"color":"transparent"},{"offset":0.5975,"color":"transparent"},{"offset":0.5975,"color":"#8c8c8c"},{"offset":0.6,"color":"#8c8c8c"},
      {"offset":0.6,"color":"transparent"},{"offset":0.61,"color":"transparent"},{"offset":0.61,"color":"#8c8c8c"},{"offset":0.6125,"color":"#8c8c8c"},
      {"offset":0.6125,"color":"transparent"},{"offset":0.6225,"color":"transparent"},{"offset":0.6225,"color":"#8c8c8c"},{"offset":0.625,"color":"#8c8c8c"},
      {"offset":0.625,"color":"transparent"},{"offset":0.635,"color":"transparent"},{"offset":0.635,"color":"#8c8c8c"},{"offset":0.6375,"color":"#8c8c8c"},
      {"offset":0.6375,"color":"transparent"},{"offset":0.6475,"color":"transparent"},{"offset":0.6475,"color":"#8c8c8c"},{"offset":0.65,"color":"#8c8c8c"},
      {"offset":0.65,"color":"transparent"},{"offset":0.66,"color":"transparent"},{"offset":0.66,"color":"#8c8c8c"},{"offset":0.6625,"color":"#8c8c8c"},
      {"offset":0.6625,"color":"transparent"},{"offset":0.6725,"color":"transparent"},{"offset":0.6725,"color":"#8c8c8c"},{"offset":0.675,"color":"#8c8c8c"},
      {"offset":0.675,"color":"transparent"},{"offset":0.685,"color":"transparent"},{"offset":0.685,"color":"#8c8c8c"},{"offset":0.6875,"color":"#8c8c8c"},
      {"offset":0.6875,"color":"transparent"},{"offset":0.6975,"color":"transparent"},{"offset":0.6975,"color":"#8c8c8c"},{"offset":0.7,"color":"#8c8c8c"},
      {"offset":0.7,"color":"transparent"},{"offset":0.71,"color":"transparent"},{"offset":0.71,"color":"#8c8c8c"},{"offset":0.7125,"color":"#8c8c8c"},
      {"offset":0.7125,"color":"transparent"},{"offset":0.7225,"color":"transparent"},{"offset":0.7225,"color":"#8c8c8c"},{"offset":0.725,"color":"#8c8c8c"},
      {"offset":0.725,"color":"transparent"},{"offset":0.735,"color":"transparent"},{"offset":0.735,"color":"#8c8c8c"},{"offset":0.7375,"color":"#8c8c8c"},
      {"offset":0.7375,"color":"transparent"},{"offset":0.7475,"color":"transparent"},{"offset":0.7475,"color":"#8c8c8c"},{"offset":0.75,"color":"#8c8c8c"},
      {"offset":0.75,"color":"transparent"},{"offset":0.76,"color":"transparent"},{"offset":0.76,"color":"#8c8c8c"},{"offset":0.7625,"color":"#8c8c8c"},
      {"offset":0.7625,"color":"transparent"},{"offset":0.7725,"color":"transparent"},{"offset":0.7725,"color":"#8c8c8c"},{"offset":0.775,"color":"#8c8c8c"},
      {"offset":0.775,"color":"transparent"},{"offset":0.785,"color":"transparent"},{"offset":0.785,"color":"#8c8c8c"},{"offset":0.7875,"color":"#8c8c8c"},
      {"offset":0.7875,"color":"transparent"},{"offset":0.7975,"color":"transparent"},{"offset":0.7975,"color":"#8c8c8c"},{"offset":0.8,"color":"#8c8c8c"},
      {"offset":0.8,"color":"transparent"},{"offset":0.81,"color":"transparent"},{"offset":0.81,"color":"#8c8c8c"},{"offset":0.8125,"color":"#8c8c8c"},
      {"offset":0.8125,"color":"transparent"},{"offset":0.8225,"color":"transparent"},{"offset":0.8225,"color":"#8c8c8c"},{"offset":0.825,"color":"#8c8c8c"},
      {"offset":0.825,"color":"transparent"},{"offset":0.835,"color":"transparent"},{"offset":0.835,"color":"#8c8c8c"},{"offset":0.8375,"color":"#8c8c8c"},
      {"offset":0.8375,"color":"transparent"},{"offset":0.8475,"color":"transparent"},{"offset":0.8475,"color":"#8c8c8c"},{"offset":0.85,"color":"#8c8c8c"},
      {"offset":0.85,"color":"transparent"},{"offset":0.86,"color":"transparent"},{"offset":0.86,"color":"#8c8c8c"},{"offset":0.8625,"color":"#8c8c8c"},
      {"offset":0.8625,"color":"transparent"},{"offset":0.8725,"color":"transparent"},{"offset":0.8725,"color":"#8c8c8c"},{"offset":0.875,"color":"#8c8c8c"},
      {"offset":0.875,"color":"transparent"},{"offset":0.885,"color":"transparent"},{"offset":0.885,"color":"#8c8c8c"},{"offset":0.8875,"color":"#8c8c8c"},
      {"offset":0.8875,"color":"transparent"},{"offset":0.8975,"color":"transparent"},{"offset":0.8975,"color":"#8c8c8c"},{"offset":0.9,"color":"#8c8c8c"},
      {"offset":0.9,"color":"transparent"},{"offset":0.91,"color":"transparent"},{"offset":0.91,"color":"#8c8c8c"},{"offset":0.9125,"color":"#8c8c8c"},
      {"offset":0.9125,"color":"transparent"},{"offset":0.9225,"color":"transparent"},{"offset":0.9225,"color":"#8c8c8c"},{"offset":0.925,"color":"#8c8c8c"},
      {"offset":0.925,"color":"transparent"},{"offset":0.935,"color":"transparent"},{"offset":0.935,"color":"#8c8c8c"},{"offset":0.9375,"color":"#8c8c8c"},
      {"offset":0.9375,"color":"transparent"},{"offset":0.9475,"color":"transparent"},{"offset":0.9475,"color":"#8c8c8c"},{"offset":0.95,"color":"#8c8c8c"},
      {"offset":0.95,"color":"transparent"},{"offset":0.96,"color":"transparent"},{"offset":0.96,"color":"#8c8c8c"},{"offset":0.9625,"color":"#8c8c8c"},
      {"offset":0.9625,"color":"transparent"},{"offset":0.9725,"color":"transparent"},{"offset":0.9725,"color":"#8c8c8c"},{"offset":0.975,"color":"#8c8c8c"},
      {"offset":0.975,"color":"transparent"},{"offset":0.985,"color":"transparent"},{"offset":0.985,"color":"#8c8c8c"},{"offset":0.9875,"color":"#8c8c8c"},
      {"offset":0.9875,"color":"transparent"},{"offset":0.9975,"color":"transparent"},{"offset":0.9975,"color":"#8c8c8c"},{"offset":1,"color":"#8c8c8c"}
    ]}},
             "encoding": {"y": {"field": "solar", "type": "quantitative", "title": "Normalised counts"}}},
            {"data": {"name": "bins"}, "transform": [{"filter": "datum.panel === 'grad'"}],
             "mark": {"type": "line", "interpolate": "step-after", "stroke": "#808080", "strokeWidth": 2.5},
             "encoding": {"y": {"field": "solar", "type": "quantitative", "title": "Normalised counts"}}},
            {"data": {"name": "bins"}, "transform": [{"filter": "datum.panel === 'grad'"}, {"fold": ["thin", "inter", "thick"], "as": ["key", "count"]}],
             "mark": {"type": "line", "interpolate": "step-after", "strokeWidth": 1.3},
             "encoding": {
               "y": {"field": "count", "type": "quantitative", "title": "Normalised counts"},
               "stroke": {"field": "key", "type": "nominal", "scale": {"domain": ["solar", "thin", "inter", "thick"], "range": ["#808080", "#ee2a2a", "#2e8b2e", "#1a35e8"]}, "legend": null}
             }},
            {"data": {"name": "vlines"}, "transform": [{"filter": "datum.panel === 'grad' && datum.series !== 'total'"}],
             "mark": {"type": "rule", "strokeWidth": 1.7},
             "encoding": {
               "stroke": {"field": "series", "type": "nominal", "scale": {"domain": ["solar", "thin", "inter", "thick"], "range": ["#808080", "#ee2a2a", "#2e8b2e", "#1a35e8"]}, "legend": null},
               "strokeDash": {"field": "stat", "type": "nominal", "scale": {"domain": ["mean", "median"], "range": [[1, 0], [5, 3]]}, "legend": null}
             }},
            {"data": {"name": "vlines"}, "transform": [{"filter": "datum.panel === 'grad' && datum.series === 'total'"}],
             "mark": {"type": "rule", "strokeWidth": 2.6, "stroke": "#808080"},
             "encoding": {}},
            {"data": {"name": "bins"}, "transform": [{"filter": "datum.panel === 'grad'"}, {"fold": ["total", "solar", "thin", "inter", "thick"], "as": ["key", "count"]}],
             "mark": {"type": "point", "filled": true, "opacity": 0},
             "encoding": {
               "y": {"field": "count", "type": "quantitative", "title": "Normalised counts"},
               "color": {"field": "key", "type": "nominal", "scale": {"domain": ["total", "solar", "thin", "inter", "thick"], "range": ["#c8c8c8", "#808080", "#ee2a2a", "#2e8b2e", "#1a35e8"]},
                 "legend": {"title": null, "labelExpr": "datum.label == 'total' ? 'sat - total vol' : datum.label == 'solar' ? 'sat - solar vol' : datum.label == 'thin' ? 'sat thin disc' : datum.label == 'inter' ? 'sat inter disc' : 'sat thick disc'"}},
               "shape": {"field": "key", "type": "nominal", "scale": {"domain": ["total", "solar", "thin", "inter", "thick"], "range": ["M-1,-0.75H3V0.75H-1Z", "M-1,-0.75H3V0.75H-1Z M-0.6,-0.35V0.35H2.6V-0.35Z M-0.35,0.35L0.35,-0.35H0.57L-0.13,0.35Z M0.55,0.35L1.25,-0.35H1.47L0.77,0.35Z M1.45,0.35L2.15,-0.35H2.37L1.67,0.35Z", "M-1,-0.12H3V0.12H-1Z", "M-1,-0.12H3V0.12H-1Z", "M-1,-0.12H3V0.12H-1Z"]},
                 "legend": {"title": null, "labelExpr": "datum.label == 'total' ? 'sat - total vol' : datum.label == 'solar' ? 'sat - solar vol' : datum.label == 'thin' ? 'sat thin disc' : datum.label == 'inter' ? 'sat inter disc' : 'sat thick disc'"}}
             }}
          ]
        },
        {
          "width": 480, "height": 347,
          "layer": [
            {"data": {"name": "bins"}, "transform": [{"filter": "datum.panel === 'grad'"}],
             "mark": {"type": "line", "interpolate": "step-after", "stroke": "#808080", "strokeWidth": 2.5},
             "encoding": {
               "x": {"field": "feh", "type": "quantitative", "title": "[Fe/H]", "scale": {"domain": [-1.86, -0.54], "nice": false, "zero": false}, "axis": {"values": [-1.8, -1.6, -1.4, -1.2, -1.0, -0.8, -0.6], "format": ".1f", "titlePadding": 6}},
               "y": {"field": "delta", "type": "quantitative", "title": "Δ", "scale": {"domain": [-0.015, 0.015], "nice": false, "zero": false}, "axis": {"values": [-0.015, -0.01, -0.005, 0, 0.005, 0.01], "format": ".3f", "titleX": -72, "titleY": 173, "titleAngle": 270, "titleAlign": "center", "titleBaseline": "middle"}}
             }},
            {"data": {"values": [{"level": 0}]},
             "mark": {"type": "rule", "stroke": "#808080", "strokeWidth": 1.5},
             "encoding": {"y": {"field": "level", "type": "quantitative"}}}
          ]
        }
      ],
      "spacing": 0,
      "bounds": "flush",
      "resolve": {"scale": {"color": "independent", "shape": "independent", "stroke": "independent", "strokeDash": "independent"}, "legend": {"color": "independent", "shape": "independent"}}
    }
  ]
}
